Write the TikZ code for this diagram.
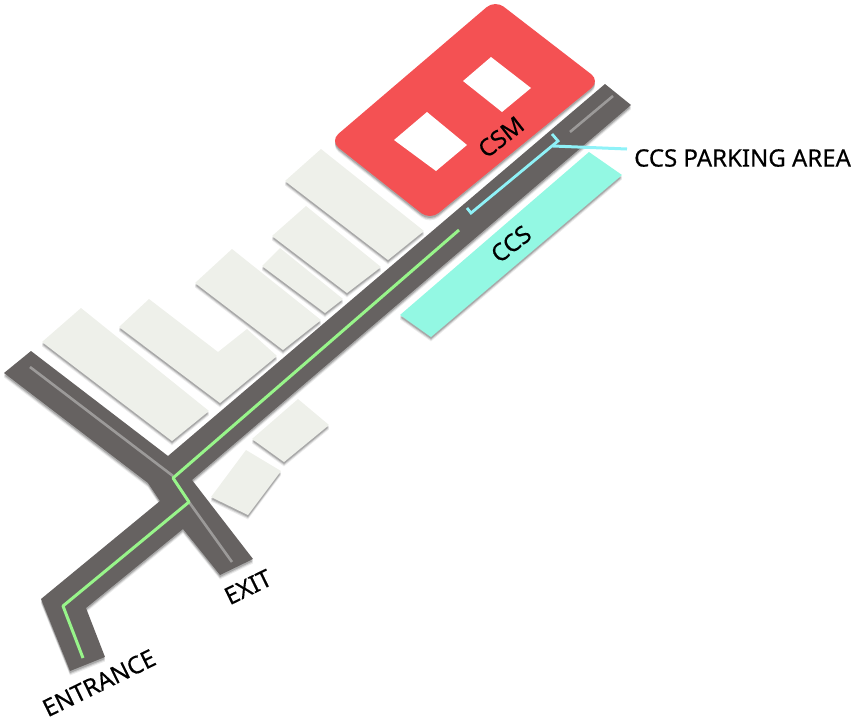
\documentclass[tikz,border=0pt]{standalone}
\usepackage{fontspec}
\setmainfont[FakeBold=0.35]{Noto Sans}
\definecolor{roadc}{HTML}{666261}
\definecolor{lanec}{HTML}{9C9A99}
\definecolor{greenc}{HTML}{98F58A}
\definecolor{redc}{HTML}{F45153}
\definecolor{bldc}{HTML}{EEF0EA}
\definecolor{ccsc}{HTML}{93F8E3}
\definecolor{cyanc}{HTML}{8FF2F8}
\tikzset{
  shd/.style={
    preaction={fill=black,fill opacity=.08,transform canvas={yshift=-4.4pt}},
    preaction={fill=black,fill opacity=.12,transform canvas={yshift=-3.2pt}},
    preaction={fill=black,fill opacity=.18,transform canvas={yshift=-2pt}}},
  road/.style={fill=roadc,shd},
  bld/.style={fill=bldc,shd},
  lane/.style={draw=lanec,line width=2.6pt},
  route/.style={draw=greenc,line width=3pt,line join=round},
  park/.style={draw=cyanc,line width=2.8pt},
  lab/.style={font=\fontsize{24}{28}\selectfont,text=black,inner sep=0pt},
  win/.style={fill=white}
}
\begin{document}
\begin{tikzpicture}[x=1pt,y=-1pt]
\useasboundingbox (0,0) rectangle (862,726);
% buildings
\path[bld] (321,149)--(424,231)--(388,260)--(285,181)--cycle;
\path[bld] (306,206)--(381,267)--(347,293)--(272,236)--cycle;
\path[bld] (280,248)--(343,299)--(325,313)--(262,266)--cycle;
\path[bld] (232,249)--(321,320)--(283,350)--(195,283)--cycle;
\path[bld] (149,299)--(218,352)--(247,329)--(277,356)--(220,403)--(119,327)--cycle;
\path[bld] (81,308)--(209,411)--(172,441)--(42,342)--cycle;
\path[bld] (298,399)--(329,425)--(284,462)--(252,439)--cycle;
\path[bld] (246,450)--(281,471)--(248,515)--(211,497)--cycle;
% CSM
\path[fill=redc,shd,rounded corners=11pt] (495,0)--(600,81)--(430,220)--(330,141)--cycle;
\path[win] (491,57)--(531,88)--(502,112)--(463,81)--cycle;
\path[win] (427,112)--(467,145)--(436,171)--(394,140)--cycle;
% CCS
\path[fill=ccsc,shd] (589,152)--(622,175)--(431,337)--(400,315)--cycle;
% road
\path[road] (31,351)--(4,373)--(148,483)--(160,501)--(41,599)--(70,671)--(105,657)--(86,608)--(183,529)--(220,575)--(253,559)--(192,480)--(631,105)--(605,84)--(168,456)--cycle;
% lanes
\coordinate (laneA) at (30,367); \coordinate (laneB) at (173,476);
\coordinate (laneC) at (189,502); \coordinate (laneD) at (232,562);
\coordinate (laneE) at (570,132); \coordinate (laneF) at (613,96);
\draw[lane] (laneA)--(laneB);
\draw[lane] (laneC)--(laneD);
\draw[lane] (laneE)--(laneF);
% route
\draw[route] (83,658)--(63,606)--(189,502)--(173,478)--(459,230);
% parking bracket
\coordinate (parkA) at (467,208);
\coordinate (parkB) at (471,213);
\coordinate (parkC) at (558,141);
\coordinate (parkD) at (552,134);
\coordinate (leader) at (553,146);
\draw[park] (parkA)--(parkB)--(parkC)--(parkD);
% labels
\node[lab,anchor=west] (parking) at (634,158) {CCS PARKING AREA};
\draw[draw=cyanc,line width=3pt] (leader)--(627,149);
\node[lab,rotate=38] (csm) at (501,137) {CSM};
\node[lab,rotate=38] (ccs) at (511,244) {CCS};
\node[lab,rotate=26] (exit) at (248,587) {EXIT};
\node[lab,rotate=26] (entrance) at (99,683) {ENTRANCE};
\end{tikzpicture}
\end{document}
